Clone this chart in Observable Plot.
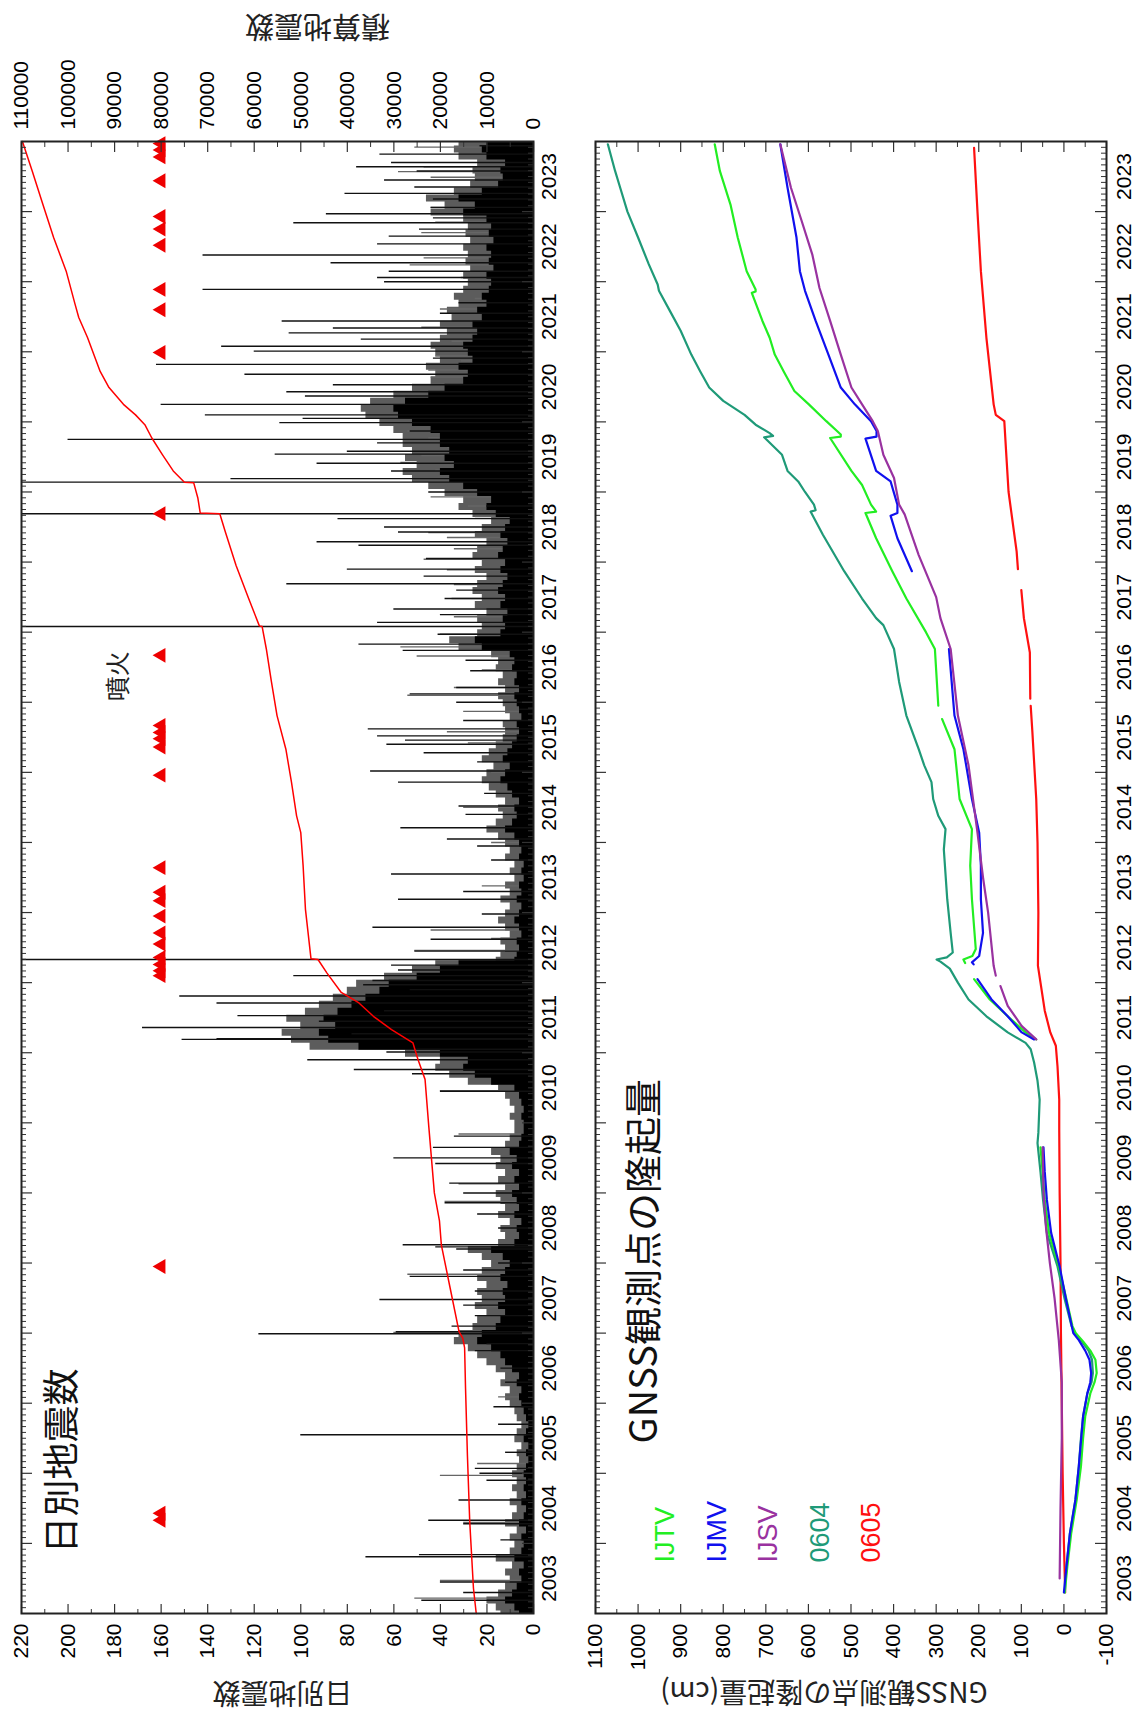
<!DOCTYPE html>
<html><head><meta charset="utf-8">
<script src="https://cdn.jsdelivr.net/npm/d3@7"></script>
<script src="https://cdn.jsdelivr.net/npm/@observablehq/plot@0.6"></script>
<style>
html,body{margin:0;padding:0;overflow:hidden;background:#fff;width:1138px;height:1716px;}
#rot{position:absolute;left:0;top:1716px;width:1716px;height:1138px;transform-origin:0 0;transform:rotate(-90deg);background:#fff;}
#rot svg{display:block;overflow:visible}
</style></head><body><div id="rot"></div>
<script>
// ---------- DATA (time in decimal years) ----------
// solid black background level of daily counts (read every ~0.1 year)
const backgroundLevel = [
[2003.0,6],[2003.1,8],[2003.2,12],[2003.3,9],[2003.4,7],[2003.5,5],[2003.6,6],[2003.7,4],[2003.8,8],[2003.9,5],
[2004.0,4],[2004.1,5],[2004.2,3],[2004.3,6],[2004.4,4],[2004.5,3],[2004.6,5],[2004.7,3],[2004.8,4],[2004.9,3],
[2005.0,4],[2005.1,3],[2005.2,2],[2005.3,3],[2005.4,2],[2005.5,4],[2005.6,3],[2005.7,2],[2005.8,3],[2005.9,4],
[2006.0,5],[2006.1,6],[2006.2,5],[2006.3,7],[2006.4,6],[2006.5,9],[2006.6,12],[2006.7,14],[2006.8,18],[2006.9,24],
[2007.0,22],[2007.1,16],[2007.2,14],[2007.3,12],[2007.4,15],[2007.5,12],[2007.6,13],[2007.7,11],[2007.8,14],[2007.9,12],
[2008.0,10],[2008.1,13],[2008.2,18],[2008.3,8],[2008.4,6],[2008.5,7],[2008.6,5],[2008.7,8],[2008.8,6],[2008.9,7],
[2009.0,9],[2009.1,6],[2009.2,8],[2009.3,6],[2009.4,9],[2009.5,7],[2009.6,10],[2009.7,6],[2009.8,5],[2009.9,4],
[2010.0,4],[2010.1,5],[2010.2,4],[2010.3,5],[2010.4,6],[2010.5,8],[2010.6,18],[2010.7,25],[2010.8,30],[2010.9,28],
[2011.0,40],[2011.1,75],[2011.2,88],[2011.3,92],[2011.4,85],[2011.5,90],[2011.6,84],[2011.7,78],[2011.8,72],[2011.9,66],
[2012.0,62],[2012.1,50],[2012.2,40],[2012.3,32],[2012.35,8],[2012.4,7],[2012.5,6],[2012.6,7],[2012.7,5],[2012.8,6],[2012.9,8],
[2013.0,6],[2013.1,5],[2013.2,7],[2013.3,5],[2013.4,6],[2013.5,4],[2013.6,5],[2013.7,4],[2013.8,6],[2013.9,5],
[2014.0,6],[2014.1,8],[2014.2,12],[2014.3,9],[2014.4,7],[2014.5,8],[2014.6,6],[2014.7,9],[2014.8,11],[2014.9,14],
[2015.0,12],[2015.1,10],[2015.2,13],[2015.3,11],[2015.4,9],[2015.5,7],[2015.6,6],[2015.7,7],[2015.8,5],[2015.9,6],
[2016.0,7],[2016.1,8],[2016.2,6],[2016.3,8],[2016.4,7],[2016.5,9],[2016.6,8],[2016.7,10],[2016.8,22],[2016.9,25],
[2017.0,14],[2017.1,12],[2017.2,13],[2017.3,11],[2017.4,14],[2017.5,12],[2017.6,15],[2017.7,13],[2017.8,11],[2017.9,14],
[2018.0,12],[2018.1,15],[2018.2,13],[2018.3,11],[2018.4,14],[2018.5,12],[2018.6,10],[2018.7,16],[2018.8,20],[2018.9,18],
[2019.0,24],[2019.1,30],[2019.2,36],[2019.3,40],[2019.4,34],[2019.5,38],[2019.6,36],[2019.7,40],[2019.8,40],[2019.9,44],
[2020.0,52],[2020.1,58],[2020.2,60],[2020.3,55],[2020.4,45],[2020.5,38],[2020.6,30],[2020.7,28],[2020.8,32],[2020.9,26],
[2021.0,28],[2021.1,30],[2021.2,26],[2021.3,24],[2021.4,26],[2021.5,22],[2021.6,24],[2021.7,20],[2021.8,22],[2021.9,19],
[2022.0,18],[2022.1,20],[2022.2,17],[2022.3,19],[2022.4,18],[2022.5,20],[2022.6,17],[2022.7,19],[2022.8,18],[2022.9,20],
[2023.0,30],[2023.1,25],[2023.2,32],[2023.3,22],[2023.4,15],[2023.5,13],[2023.6,14],[2023.7,12],[2023.8,20],[2023.9,22],[2024.0,20]
];
// upper edge of the dense grey band (many medium days), every ~0.1 year
const greyLevel = [
[2003.0,14],[2003.1,16],[2003.2,20],[2003.3,15],[2003.4,12],[2003.5,10],[2003.6,12],[2003.7,9],[2003.8,16],[2003.9,10],
[2004.0,8],[2004.1,10],[2004.2,7],[2004.3,12],[2004.4,9],[2004.5,7],[2004.6,10],[2004.7,7],[2004.8,9],[2004.9,7],
[2005.0,9],[2005.1,7],[2005.2,6],[2005.3,7],[2005.4,5],[2005.5,8],[2005.6,7],[2005.7,5],[2005.8,7],[2005.9,8],
[2006.0,10],[2006.1,12],[2006.2,10],[2006.3,14],[2006.4,12],[2006.5,16],[2006.6,20],[2006.7,24],[2006.8,28],[2006.9,34],
[2007.0,32],[2007.1,26],[2007.2,24],[2007.3,20],[2007.4,25],[2007.5,22],[2007.6,24],[2007.7,20],[2007.8,24],[2007.9,22],
[2008.0,18],[2008.1,22],[2008.2,28],[2008.3,15],[2008.4,12],[2008.5,14],[2008.6,10],[2008.7,15],[2008.8,12],[2008.9,14],
[2009.0,16],[2009.1,12],[2009.2,15],[2009.3,12],[2009.4,16],[2009.5,14],[2009.6,18],[2009.7,12],[2009.8,10],[2009.9,8],
[2010.0,8],[2010.1,10],[2010.2,8],[2010.3,10],[2010.4,12],[2010.5,15],[2010.6,28],[2010.7,36],[2010.8,42],[2010.9,40],
[2011.0,55],[2011.1,96],[2011.2,104],[2011.3,108],[2011.4,100],[2011.5,106],[2011.6,98],[2011.7,92],[2011.8,86],[2011.9,80],
[2012.0,76],[2012.1,64],[2012.2,52],[2012.3,42],[2012.35,16],[2012.4,14],[2012.5,12],[2012.6,14],[2012.7,10],[2012.8,12],[2012.9,15],
[2013.0,12],[2013.1,10],[2013.2,14],[2013.3,10],[2013.4,12],[2013.5,8],[2013.6,10],[2013.7,8],[2013.8,12],[2013.9,10],
[2014.0,12],[2014.1,15],[2014.2,20],[2014.3,16],[2014.4,13],[2014.5,15],[2014.6,12],[2014.7,16],[2014.8,19],[2014.9,22],
[2015.0,20],[2015.1,17],[2015.2,22],[2015.3,19],[2015.4,16],[2015.5,13],[2015.6,12],[2015.7,13],[2015.8,10],[2015.9,12],
[2016.0,13],[2016.1,15],[2016.2,12],[2016.3,15],[2016.4,13],[2016.5,16],[2016.6,15],[2016.7,18],[2016.8,32],[2016.9,36],
[2017.0,24],[2017.1,22],[2017.2,24],[2017.3,20],[2017.4,25],[2017.5,22],[2017.6,26],[2017.7,24],[2017.8,20],[2017.9,25],
[2018.0,22],[2018.1,26],[2018.2,24],[2018.3,20],[2018.4,25],[2018.5,22],[2018.6,18],[2018.7,26],[2018.8,32],[2018.9,30],
[2019.0,38],[2019.1,45],[2019.2,52],[2019.3,56],[2019.4,50],[2019.5,55],[2019.6,52],[2019.7,56],[2019.8,56],[2019.9,60],
[2020.0,66],[2020.1,72],[2020.2,74],[2020.3,70],[2020.4,60],[2020.5,52],[2020.6,44],[2020.7,42],[2020.8,46],[2020.9,40],
[2021.0,42],[2021.1,44],[2021.2,40],[2021.3,37],[2021.4,40],[2021.5,35],[2021.6,37],[2021.7,32],[2021.8,34],[2021.9,30],
[2022.0,28],[2022.1,30],[2022.2,27],[2022.3,29],[2022.4,28],[2022.5,30],[2022.6,27],[2022.7,29],[2022.8,28],[2022.9,30],
[2023.0,44],[2023.1,38],[2023.2,46],[2023.3,34],[2023.4,27],[2023.5,25],[2023.6,26],[2023.7,24],[2023.8,32],[2023.9,34],[2024.0,32]
];
// individual high days [time, count]; 250 = off scale (>220)
const dailySpikes = [
[2003.19,48],[2003.3,30],[2003.45,40],[2003.81,72],[2003.84,49],[2004.05,14],[2004.28,30],[2004.33,45],[2004.62,32],[2004.9,20],[2005.0,23],[2005.07,25],[2005.3,12],[2005.55,100],[2005.7,15],[2005.95,17],[2006.3,12],[2006.5,14],[2006.75,25],[2006.85,20],[2006.99,118],[2007.02,59],[2007.1,35],[2007.25,25],[2007.4,30],[2007.48,66],[2007.6,25],[2007.81,53],[2007.9,30],[2008.0,15],[2008.2,33],[2008.23,42],[2008.26,56],[2008.5,15],
[2008.7,24],[2008.86,38],[2009.0,30],[2009.14,36],[2009.42,42],[2009.5,60],[2009.65,43],[2009.81,34],[2010.45,40],[2010.7,52],[2010.76,77],[2010.9,97],[2011.01,63],[2011.05,50],[2011.19,151],[2011.2,136],[2011.27,78],[2011.36,168],[2011.45,92],[2011.53,127],[2011.6,64],[2011.71,136],[2011.81,152],[2011.9,53],[2011.97,73],[2012.03,69],[2012.10,103],[2012.18,58],[2012.25,61],[2012.33,250],[2012.45,51],[2012.62,44],[2012.79,69],[2012.98,22],[2013.19,58],[2013.3,30],[2013.55,61],[2013.75,18],
[2013.95,24],[2014.05,37],[2014.21,57],[2014.4,29],[2014.52,32],[2014.7,21],[2014.86,58],[2015.02,70],[2015.15,24],[2015.28,47],[2015.40,63],[2015.46,55],[2015.52,67],[2015.62,71],[2015.74,30],[2015.9,6],[2016.0,33],[2016.12,53],[2016.21,33],[2016.45,27],[2016.6,29],[2016.74,56],[2016.83,75],[2016.97,41],[2017.08,250],[2017.14,67],[2017.25,40],[2017.33,60],[2017.48,38],[2017.6,33],[2017.69,106],[2017.8,47],[2017.9,80],[2018.05,46],[2018.24,75],[2018.29,93],[2018.43,58],[2018.5,64],[2018.62,84],[2018.69,250],[2018.8,20],
[2019.0,45],[2019.14,250],[2019.19,130],[2019.30,61],[2019.41,93],[2019.54,111],[2019.58,80],[2019.70,67],[2019.75,200],[2019.87,53],[2019.99,109],[2020.05,99],[2020.10,141],[2020.25,160],[2020.37,98],[2020.43,106],[2020.53,86],[2020.68,124],[2020.82,162],[2020.91,43],[2021.01,120],[2021.08,134],[2021.18,74],[2021.27,105],[2021.34,86],[2021.44,108],[2021.55,40],[2021.70,32],[2021.89,142],[2022.0,64],[2022.06,67],[2022.15,62],[2022.27,87],[2022.38,142],[2022.54,67],[2022.65,62],[2022.75,49],[2022.84,103],[2022.91,43],[2022.97,89],[2023.06,44],[2023.18,43],[2023.26,81],[2023.35,51],[2023.45,64],[2023.58,50],[2023.64,76],[2023.70,61],[2023.82,66],[2023.94,23]
];
// medium days drawn in grey
const greyDays = [
[2003.22,51],[2003.47,40],[2004.30,30],[2004.97,40],[2005.14,24],[2006.09,15],[2007.01,60],[2007.38,22],[2007.84,54],[2008.88,38],[2009.13,32],[2009.84,32],[2010.46,40],[2010.71,22],[2010.88,25],[2012.09,40],[2012.17,32],[2012.46,51],[2012.63,18],[2012.75,44],[2013.38,22],[2014.0,18],[2014.50,30],[2015.0,18],[2015.42,28],[2015.58,37],[2015.87,30],
[2016.10,54],[2016.21,34],[2016.46,22],[2016.66,50],[2016.79,57],[2016.97,40],[2017.22,34],[2017.48,35],[2017.68,34],[2017.89,37],[2018.04,47],[2018.19,34],[2018.35,37],[2018.42,45],[2018.65,25],[2018.80,28],[2018.93,44],[2019.24,30],[2019.31,42],[2019.42,57],[2019.52,48],[2019.64,37],[2019.77,45],[2019.87,54],
[2020.26,30],[2020.33,45],[2020.54,28],[2020.64,44],[2020.74,45],[2020.87,31],[2020.94,42],[2021.15,35],[2021.35,48],[2021.61,40],[2021.76,25],[2022.06,31],[2022.24,53],[2022.34,47],[2022.70,48],[2022.85,42],[2023.06,44],[2023.18,37],[2023.49,44],[2023.57,58],[2023.64,47],[2023.92,51]
];
// cumulative count [time, total]
const cumulative = [
[2003.0,12300],[2003.36,12900],[2004.31,13700],[2005.26,14200],[2006.21,14600],[2006.79,14800],[2006.93,15200],[2007.02,16000],[2007.64,17900],[2008.26,19800],[2008.60,20200],[2009.0,21300],[2009.95,22500],[2010.62,23300],[2010.90,24800],[2011.14,25900],[2011.33,30500],[2011.52,34400],[2011.71,37500],[2011.86,41300],[2012.14,44400],[2012.33,46300],[2012.34,47800],[2013.05,49000],[2013.67,49500],[2014.14,50000],[2014.38,50900],[2014.86,52000],[2015.33,53200],[2015.81,55100],[2016.29,56300],[2016.76,57400],[2017.08,58300],[2017.09,58900],[2017.48,61200],[2017.95,63900],[2018.43,66200],[2018.69,67400],[2018.70,71600],[2018.91,72100],[2019.13,73000],[2019.14,75000],[2019.30,77400],[2019.53,79700],[2019.77,82000],[2019.96,83500],[2020.10,85500],[2020.25,88100],[2020.49,91200],[2020.72,93100],[2021.2,95800],[2021.49,97700],[2021.68,98500],[2022.15,100400],[2022.63,103100],[2023.10,105400],[2023.58,107700],[2024.0,109800]
];
// eruption markers (times)
const eruptions = [2004.33,2004.43,2007.95,2012.10,2012.17,2012.26,2012.36,2012.55,2012.71,2012.95,2013.17,2013.29,2013.64,2014.96,2015.36,2015.48,2015.57,2015.67,2016.67,2018.69,2020.99,2021.60,2021.89,2022.52,2022.75,2022.93,2023.44,2023.78,2023.88,2023.97];
const eruptionLevel = 160;

// GNSS uplift (cm) [time, value]; null = gap
const gIJTV = [[2003.3,-2],[2003.67,-8],[2004.14,-17],[2004.62,-30],[2005.10,-40],[2005.5,-45],[2005.81,-50],[2006.14,-62],[2006.3,-72],[2006.43,-77],[2006.62,-74],[2006.75,-62],[2006.88,-45],[2007.0,-28],[2007.10,-20],[2007.48,-6],[2007.95,12],[2008.43,35],[2008.90,45],[2009.3,50],[2009.65,55],null,
[2011.19,65],[2011.29,90],[2011.52,132],[2011.76,174],[2012.05,211],null,[2012.28,232],[2012.33,236],[2012.38,215],[2012.48,207],[2013.19,216],[2013.67,220],[2014.19,216],[2014.62,245],[2015.10,253],[2015.33,257],[2015.76,286],null,[2015.95,295],[2016.76,303],[2017.0,324],[2017.48,370],[2017.87,403],[2018.34,441],[2018.70,466],[2018.72,441],[2018.82,453],[2019.10,474],[2019.30,499],[2019.77,549],[2019.79,524],[2019.82,524],[2020.01,558],[2020.25,599],[2020.44,633],[2020.72,658],[2020.96,679],[2021.20,691],[2021.44,708],[2021.84,733],[2021.86,724],[2021.89,724],[2022.15,745],[2022.63,766],[2023.10,783],[2023.58,808],[2023.96,820]];
const gIJMV = [[2003.3,0],[2003.67,-6],[2004.14,-14],[2004.62,-27],[2005.10,-35],[2005.81,-45],[2006.14,-55],[2006.3,-62],[2006.43,-64],[2006.62,-60],[2006.75,-50],[2006.9,-35],[2007.0,-22],[2007.48,-5],[2007.95,10],[2008.43,30],[2008.90,40],[2009.3,45],[2009.65,48],null,
[2011.19,70],[2011.29,99],[2011.52,132],[2011.76,170],[2012.05,203],null,[2012.26,212],[2012.29,216],[2012.38,199],[2012.71,190],[2013.19,195],[2013.67,195],[2014.14,199],[2014.62,216],[2015.33,236],[2015.81,257],[2016.76,270],null,
[2017.87,357],[2018.34,391],[2018.66,407],[2018.70,391],[2018.82,391],[2019.15,407],[2019.30,441],[2019.76,466],[2019.79,440],[2019.87,440],[2020.01,453],[2020.25,491],[2020.49,524],[2020.96,553],[2021.44,583],[2021.87,608],[2022.15,620],[2022.63,628],[2023.34,649],[2023.96,666]];
const gIJSV = [[2003.5,10],[2004.5,8],[2005.5,5],[2006.3,5],[2006.9,12],[2007.5,22],[2008.0,33],[2008.5,42],[2009.0,48],[2009.65,50],null,
[2011.19,65],[2011.38,99],[2011.67,132],[2011.95,149],null,[2012.10,160],[2012.24,165],[2013.0,178],[2013.5,190],[2014.14,203],[2015.10,224],[2015.81,249],[2016.76,266],[2017.2,290],[2017.5,300],[2018.1,341],[2018.68,374],[2018.82,387],[2019.20,399],[2019.53,424],[2019.87,437],[2020.01,449],[2020.25,474],[2020.49,499],[2020.96,524],[2021.44,549],[2021.91,574],[2022.39,591],[2022.87,616],[2023.34,641],[2023.96,666]];
const g0604 = [[2003.3,-2],[2003.67,-6],[2004.14,-14],[2004.62,-27],[2005.10,-35],[2005.5,-40],[2005.81,-45],[2006.14,-55],[2006.3,-65],[2006.43,-68],[2006.62,-66],[2006.75,-58],[2006.90,-40],[2007.0,-25],[2007.10,-18],[2007.48,-2],[2007.95,15],[2008.43,40],[2008.90,49],[2009.3,55],[2009.71,62],[2009.86,60],[2010.33,57],[2010.6,62],[2010.86,70],[2011.05,78],[2011.14,90],[2011.29,132],[2011.52,182],[2011.76,224],[2012.0,249],[2012.2,268],[2012.30,290],[2012.33,299],[2012.36,275],[2012.43,261],[2012.71,266],[2013.19,274],[2013.90,282],[2014.19,278],[2014.38,295],[2014.62,307],[2014.86,311],[2015.10,328],[2015.33,341],[2015.81,370],[2016.29,387],[2016.76,399],[2017.10,424],[2017.2,441],[2017.48,474],[2017.87,516],[2018.39,566],[2018.72,595],[2018.74,583],[2018.82,587],[2019.0,608],[2019.15,624],[2019.30,649],[2019.53,662],[2019.78,704],[2019.80,683],[2019.84,691],[2019.96,724],[2020.10,750],[2020.30,800],[2020.49,833],[2020.72,854],[2020.96,875],[2021.30,900],[2021.58,925],[2021.87,951],[2021.96,954],[2022.25,975],[2022.63,1000],[2023.0,1025],[2023.34,1042],[2023.58,1054],[2023.96,1071]];
const g0605 = [[2003.3,-3],[2004.0,0],[2005.0,3],[2006.0,5],[2007.0,7],[2008.0,8],[2009.0,10],[2009.9,11],[2010.33,11],[2010.8,15],[2011.1,19],[2011.29,32],[2011.6,45],[2012.0,55],[2012.24,61],[2013.0,60],[2014.0,62],[2014.62,65],[2015.57,74],[2015.95,78],null,[2016.05,79],[2016.71,80],[2017.2,94],[2017.6,100],null,[2017.9,108],[2018.15,111],[2019.0,130],[2019.5,135],[2020.01,140],[2020.1,160],[2020.25,165],[2021.2,182],[2022.15,195],[2023.0,203],[2023.91,211]];

const stations = [
  {name:"IJTV", color:"#22ee22", data:gIJTV},
  {name:"IJMV", color:"#1010ee", data:gIJMV},
  {name:"IJSV", color:"#9932a0", data:gIJSV},
  {name:"0604", color:"#1f9a78", data:g0604},
  {name:"0605", color:"#ff1010", data:g0605}
];
const drawOrder = ["0605","0604","IJTV","IJMV","IJSV"];

// axis ticks
const yearLabelPos = d3.range(2003.5, 2024, 1);
const yearBounds = d3.range(2004, 2024, 1);
const monthTicks = d3.range(0, 21*12).map(i => 2003 + i/12).filter((d,i) => i % 12 !== 0);
const countMajor = d3.range(0, 221, 20);
const countMinor = d3.range(10, 220, 20);
const cumRatio = 500; // 110000 / 220
const gnssMajor = d3.range(-100, 1101, 100);
const gnssMinor = d3.range(-50, 1100, 100);

// ---------- DRAW ----------
const LAT = "'Liberation Sans', Arial, sans-serif";
const NAR = "'Liberation Sans Narrow', 'Liberation Sans', sans-serif";
const JP = "'Noto Sans CJK JP', sans-serif";
const W = 1716, L = 102, R = 142;

function edgeTicks(panelH, panelW, majorY, minorY) {
  const t = [];
  t.push(Plot.tickX(yearBounds, {x: d => d, insetTop: panelH - 11, stroke: "#333", strokeWidth: 1.2}));
  t.push(Plot.tickX(yearBounds, {x: d => d, insetBottom: panelH - 11, stroke: "#333", strokeWidth: 1.2}));
  t.push(Plot.tickX(monthTicks, {x: d => d, insetTop: panelH - 5, stroke: "#333", strokeWidth: 1}));
  t.push(Plot.tickX(monthTicks, {x: d => d, insetBottom: panelH - 5, stroke: "#333", strokeWidth: 1}));
  t.push(Plot.tickY(majorY, {y: d => d, insetRight: panelW - 10, stroke: "#333", strokeWidth: 1.2}));
  t.push(Plot.tickY(majorY, {y: d => d, insetLeft: panelW - 10, stroke: "#333", strokeWidth: 1.2}));
  t.push(Plot.tickY(minorY, {y: d => d, insetRight: panelW - 5, stroke: "#333", strokeWidth: 1}));
  t.push(Plot.tickY(minorY, {y: d => d, insetLeft: panelW - 5, stroke: "#333", strokeWidth: 1}));
  return t;
}

const topH = 580, topMT = 21, topMB = 47;
const topPanelH = topH - topMT - topMB, panelW = W - L - R;
const quakes = Plot.plot({
  width: W, height: topH, marginTop: topMT, marginBottom: topMB, marginLeft: L, marginRight: R,
  style: {fontFamily: LAT, background: "white", overflow: "visible"},
  x: {domain: [2003, 2024]},
  y: {domain: [0, 220]},
  marks: [
    Plot.areaY(greyLevel, {x: d => d[0], y: d => d[1], fill: "#5c5c5c", curve: "step"}),
    Plot.ruleX(greyDays, {x: d => d[0], y1: 0, y2: d => d[1], stroke: "#666", strokeWidth: 1.4}),
    Plot.areaY(backgroundLevel, {x: d => d[0], y: d => d[1], fill: "black", curve: "step"}),
    Plot.ruleX(dailySpikes, {x: d => d[0], y1: 0, y2: d => d[1], stroke: "#111", strokeWidth: 1.4, clip: true}),
    Plot.line(cumulative, {x: d => d[0], y: d => d[1] / cumRatio, stroke: "#ff0000", strokeWidth: 1.5}),
    Plot.dot(eruptions, {x: d => d, y: () => eruptionLevel, symbol: "triangle", fill: "#ee0000", r: 5.5}),
    Plot.text(["噴火"], {x: () => 2016.37, y: () => 178, fontSize: 25, fontFamily: JP, fill: "#222"}),
    Plot.text(["日別地震数"], {frameAnchor: "top-left", dx: 60, dy: 42, textAnchor: "start", lineAnchor: "middle", fontSize: 37, fontFamily: JP, fill: "#111"}),
    ...edgeTicks(topPanelH, panelW, countMajor, countMinor),
    Plot.frame({stroke: "#222", strokeWidth: 2}),
    Plot.axisX({ticks: yearLabelPos, tickFormat: d => String(Math.floor(d)), tickSize: 0, tickPadding: 8, fontSize: 21, fontFamily: NAR, label: null}),
    Plot.axisY({anchor: "left", ticks: countMajor, tickFormat: d => String(d), tickSize: 0, tickPadding: 10, fontSize: 21, label: null}),
    Plot.axisY({anchor: "right", ticks: countMajor, tickFormat: d => String(d * cumRatio), tickSize: 0, tickPadding: 12, fontSize: 21, label: null}),
    Plot.text(["日別地震数"], {frameAnchor: "left", dx: -78, dy: 5, rotate: -90, textAnchor: "middle", lineAnchor: "middle", fontSize: 28, fontFamily: JP, fill: "#222"}),
    Plot.text(["積算地震数"], {frameAnchor: "right", dx: 116, dy: 40, rotate: -90, textAnchor: "middle", lineAnchor: "middle", fontSize: 29, fontFamily: JP, fill: "#222"})
  ]
});

const botH = 558, botMT = 15, botMB = 32;
const botPanelH = botH - botMT - botMB;
const lineMarks = drawOrder.map(n => {
  const s = stations.find(d => d.name === n);
  const rows = s.data.map(p => p ? {t: p[0], v: p[1]} : {t: NaN, v: NaN});
  return Plot.line(rows, {x: "t", y: "v", stroke: s.color, strokeWidth: 2.2});
});
const legendMarks = stations.map((s, i) =>
  Plot.text([s.name], {frameAnchor: "top-left", dx: 51, dy: 70 + i * 51.5, textAnchor: "start", lineAnchor: "middle", fill: s.color, fontSize: 27, fontFamily: LAT})
);
const gnss = Plot.plot({
  width: W, height: botH, marginTop: botMT, marginBottom: botMB, marginLeft: L, marginRight: R,
  style: {fontFamily: LAT, background: "white", overflow: "visible"},
  x: {domain: [2003, 2024]},
  y: {domain: [-100, 1100]},
  marks: [
    ...lineMarks,
    ...legendMarks,
    Plot.text(["GNSS観測点の隆起量"], {frameAnchor: "top-left", dx: 170, dy: 49, textAnchor: "start", lineAnchor: "middle", fontSize: 38, fontFamily: JP, fill: "#111"}),
    ...edgeTicks(botPanelH, panelW, gnssMajor, gnssMinor),
    Plot.frame({stroke: "#222", strokeWidth: 2}),
    Plot.axisX({ticks: yearLabelPos, tickFormat: d => String(Math.floor(d)), tickSize: 0, tickPadding: 10, fontSize: 21, fontFamily: NAR, label: null}),
    Plot.axisY({anchor: "left", ticks: gnssMajor, tickFormat: d => String(d), tickSize: 0, tickPadding: 10, fontSize: 21, label: null}),
    Plot.text(["GNSS観測点の隆起量(cm)"], {frameAnchor: "left", dx: -77, dy: -27, rotate: -90, textAnchor: "middle", lineAnchor: "middle", fontSize: 28, fontFamily: JP, fill: "#222"})
  ]
});

const rot = document.getElementById("rot");
rot.appendChild(quakes);
rot.appendChild(gnss);
</script></body></html>
